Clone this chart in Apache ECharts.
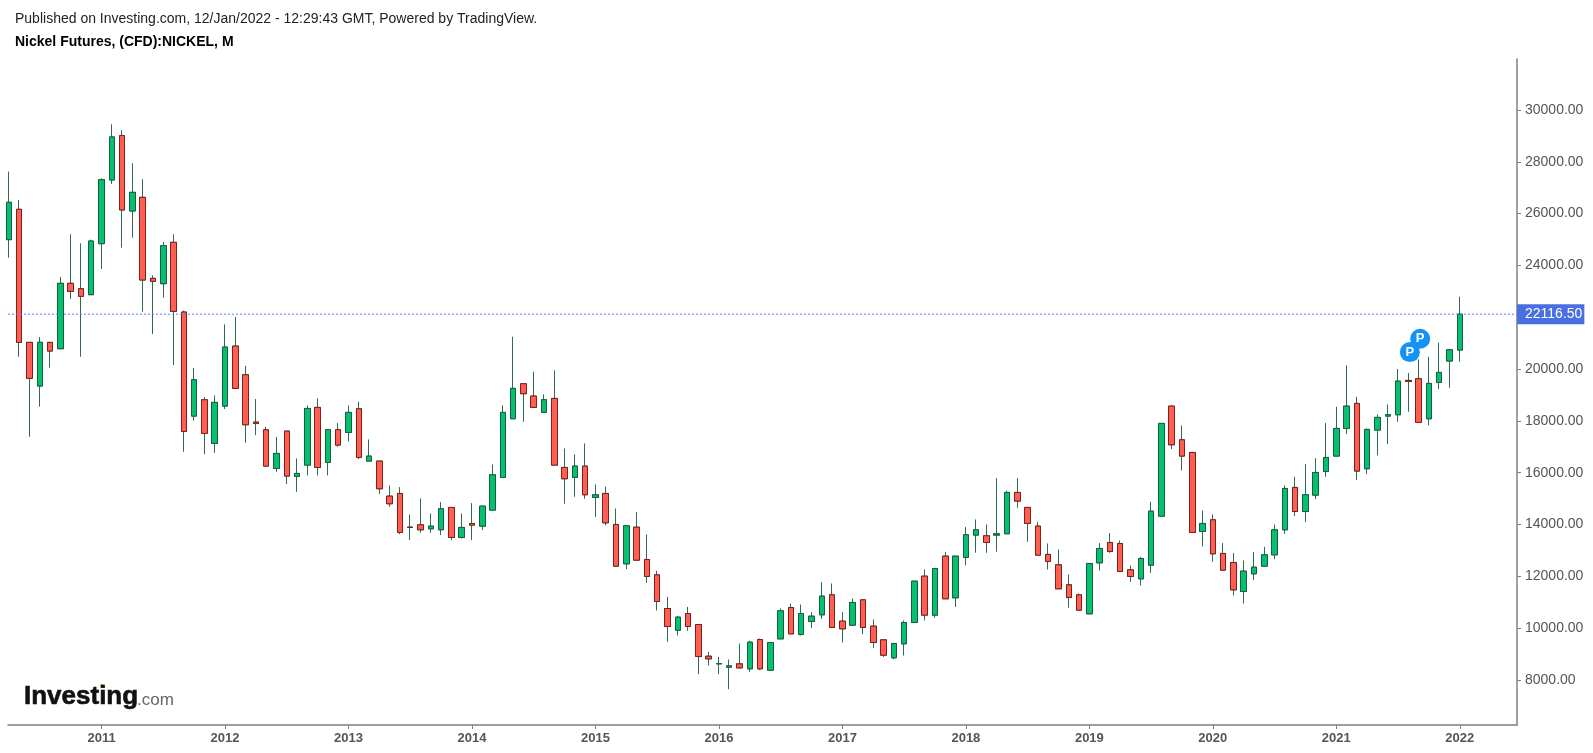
<!DOCTYPE html>
<html>
<head>
<meta charset="utf-8">
<title>Nickel Futures</title>
<script src="https://cdn.jsdelivr.net/npm/echarts@6/dist/echarts.min.js"></script>
<style>
html, body { margin: 0; padding: 0; background: #fff; }
#chart { width: 1593px; height: 753px; }
</style>
</head>
<body>
<div id="chart"></div>
<script>
// monthly candles, Apr 2010 - Jan 2022
var opens = [24994,26165,21030,19344,21030,20785,23308,23102,22870,24839,
  27297,29009,26100,26628,23501,23295,24891,22201,18185,18816,
  17130,18571,20888,19781,17954,17658,16165,17606,15856,16293,
  18520,16396,17658,17555,18468,16448,16448,15097,15199,13900,
  13990,13835,13797,14659,13501,14041,13938,14556,15817,18082,
  19434,18958,18327,18867,16203,15817,16255,15045,15199,14002,
  12484,13899,12651,12059,10759,9923,10566,10141,8919,8623,
  8494,8623,8430,9562,8378,9588,10798,9755,10257,10515,
  11288,10271,10116,11094,10078,9550,8855,9396,10219,12008,
  10503,12780,11172,12729,13591,13566,13591,13643,15239,14660,
  13939,12845,12446,11674,11288,10554,12522,13307,13269,12252,
  11904,12432,14324,18571,17271,16782,13732,14182,12883,12535,
  11416,12098,12394,12831,13796,15431,14504,15135,16049,16641,
  17709,18674,16152,17645,18185,18237,19562,19626,18082,19485,
  20309,20733];
var closes = [26435,21030,19640,21030,20695,23308,22999,22806,24942,27310,
  28958,26139,26821,23436,23385,24762,22227,17593,19588,17516,
  18713,20849,19254,17851,17902,16255,16744,15869,15972,18481,
  16203,17658,17066,18327,16589,16641,15380,14801,13694,13887,
  13797,13938,14607,13501,13887,13977,14710,15920,18327,19254,
  19048,18520,18816,16293,15766,16255,15148,15148,14067,12393,
  13951,12625,11995,11029,10064,10424,10064,8906,8816,8635,
  8546,8468,9459,8430,9446,10669,9781,10566,10463,11236,
  10026,9975,10992,10026,9447,8958,9409,10219,11815,10503,
  12304,11133,12780,13604,13797,13308,13643,15239,14904,14042,
  12819,12575,11519,11185,10696,12497,13076,12960,12188,11995,
  12690,14517,17902,17078,16641,13693,14041,12870,12239,11480,
  12201,12355,12831,13796,15392,14504,15148,16010,16589,17709,
  18571,16062,17670,18134,18237,19536,19524,17941,19446,19871,
  20746,22116.5];
var lows = [24299,20476,17387,18546,20051,20785,22703,20476,22870,23861,
  27143,24685,25071,22214,21351,22754,20154,16808,18005,16718,
  16770,18456,19254,17156,17452,16255,16036,15560,15264,15895,
  15895,15895,17001,17207,16525,16448,15174,14685,13629,13398,
  13681,13681,13591,13398,13462,13399,13784,14556,15817,18082,
  17967,18520,18327,16293,14801,15071,14993,14298,13964,12393,
  12278,12625,11750,10682,9472,9717,9897,8224,8558,8224,
  7644,8442,8314,8378,8378,9588,9781,9717,10013,10361,
  10026,9447,10116,9769,9241,8894,8804,8945,10219,10297,
  10400,11133,10824,12420,12909,12909,12948,13643,14647,13334,
  12819,12266,11519,10786,10696,10554,12226,12908,12188,11789,
  11647,12136,14324,16911,16087,13693,13153,12561,12239,11261,
  10948,11853,12394,12664,13642,14326,14094,14980,15843,16641,
  17490,15714,15946,16666,17104,17966,18352,17941,17825,19228,
  19279,20283];
var highs = [27619,26525,21030,21236,21030,23552,25199,24852,24994,27362,
  29447,29215,27941,27323,23616,24903,25199,22252,20039,18919,
  18983,21725,22008,20129,18842,17773,17375,17606,16551,18597,
  18867,17658,17915,18597,18739,17284,16448,15508,15444,14389,
  15006,14427,14865,14659,14427,14826,14710,16319,18597,21248,
  19434,19897,19022,19949,16937,16705,17130,15547,15457,14620,
  13951,14479,13616,12213,11210,10476,10823,10141,9086,8893,
  8790,9408,9511,9601,9446,10759,10952,10914,10617,11777,
  11725,10618,11146,11094,10335,9550,9409,10297,11815,12266,
  12304,12935,12780,13900,14196,14003,15792,15303,15792,14660,
  14106,13270,13038,12073,11339,12497,13282,13668,13385,12419,
  12754,14877,17902,18571,17825,16782,14543,14388,13282,12895,
  12612,12934,13140,14002,15508,15843,16332,16563,17915,18545,
  20141,18932,17709,18250,18635,20000,19845,20373,20476,21016,
  20746,22793];

var priceTicks = [8000,10000,12000,14000,16000,18000,20000,22000,24000,26000,28000,30000];
var yearTicks = [9,21,33,45,57,69,81,93,105,117,129,141]; // index of each January
var yearLabels = ['2011','2012','2013','2014','2015','2016','2017','2018','2019','2020','2021','2022'];
var lastPrice = 22116.5;
var pubMarks = [[136.15, 20656], [137.15, 21170]];
var xMin = -0.09, xMax = 146.56;

var green = '#04c06f', red = '#ff5f52', wick = '#2f6b52';
var fullRows = [], bodyRows = [];
opens.forEach(function(o, i) {
    fullRows.push([i, o, closes[i], lows[i], highs[i]]);
    bodyRows.push([i, o, closes[i], Math.min(o, closes[i]), Math.max(o, closes[i])]);
});

var chart = echarts.init(document.getElementById('chart'));
var sans = '"Liberation Sans", Arial, sans-serif';
var option = {
    animation: false,
    backgroundColor: '#fff',
    title: [
        { text: 'Published on Investing.com, 12/Jan/2022 - 12:29:43 GMT, Powered by TradingView.', left: 10, top: 7,
          textStyle: { fontFamily: sans, fontSize: 14, fontWeight: 'normal', color: '#222' } },
        { text: 'Nickel Futures, (CFD):NICKEL, M', left: 10, top: 30,
          textStyle: { fontFamily: sans, fontSize: 14, fontWeight: 'bold', color: '#000' } },
        { text: 'Investing', left: 19, top: 679,
          textStyle: { fontFamily: sans, fontSize: 26, fontWeight: 'bold', color: '#111', textBorderColor: '#111', textBorderWidth: 0.6 } },
        { text: '.com', left: 132, top: 687,
          textStyle: { fontFamily: sans, fontSize: 17, fontWeight: 'normal', color: '#666' } }
    ],
    grid: { left: 8, right: 76, top: 59, bottom: 28 },
    xAxis: {
        type: 'value',
        min: xMin,
        max: xMax,
        splitLine: { show: false },
        axisLine: { onZero: false, lineStyle: { color: '#808080', width: 1.5 } },
        axisTick: { length: 4, lineStyle: { color: '#808080' }, customValues: yearTicks },
        axisLabel: {
            customValues: yearTicks,
            margin: 7,
            fontFamily: sans, fontSize: 13, fontWeight: 'bold', color: '#555',
            formatter: function(v) { return yearLabels[yearTicks.indexOf(v)]; }
        }
    },
    yAxis: {
        type: 'value',
        position: 'right',
        min: 6263,
        max: 31966,
        splitLine: { show: false },
        axisLine: { show: true, onZero: false, lineStyle: { color: '#808080', width: 1.5 } },
        axisTick: { show: true, length: 4, lineStyle: { color: '#808080' }, customValues: priceTicks },
        axisLabel: {
            customValues: priceTicks,
            margin: 8,
            fontFamily: sans, fontSize: 14, color: '#555',
            formatter: function(v) { return v.toFixed(2); }
        }
    },
    series: [{
        name: 'wicks',
        type: 'candlestick',
        barWidth: 6,
        encode: { x: 0, y: [1, 2, 3, 4] },
        itemStyle: { color: green, color0: red, borderColor: wick, borderColor0: wick, borderColorDoji: wick, borderWidth: 1 },
        data: fullRows
    }, {
        name: 'bodies',
        type: 'candlestick',
        barWidth: 6,
        encode: { x: 0, y: [1, 2, 3, 4] },
        itemStyle: { color: green, color0: red, borderColor: '#1a5e41', borderColor0: '#7d1f1b', borderColorDoji: '#1a5e41', borderWidth: 1 },
        data: bodyRows,
        markPoint: {
            silent: true,
            symbol: 'circle',
            symbolSize: 20,
            itemStyle: { color: '#1592f5', borderWidth: 0 },
            label: { formatter: 'P', color: '#fff', fontFamily: sans, fontSize: 13, fontWeight: 'bold' },
            data: pubMarks.map(function(c) { return { coord: c }; })
        }
    }, {
        name: 'last price',
        type: 'line',
        silent: true,
        showSymbol: false,
        data: [[xMin, lastPrice], [xMax, lastPrice]],
        lineStyle: { type: [2, 2], color: '#5b7ff0', width: 1 },
        endLabel: {
            show: true,
            distance: 0,
            formatter: function() { return lastPrice.toFixed(2); },
            fontFamily: sans, fontSize: 14, color: '#fff',
            backgroundColor: '#4a6fe3',
            padding: [4, 2, 2, 8]
        }
    }],
    graphic: [{
        type: 'circle',
        shape: { cx: 102, cy: 685.5, r: 1.8 },
        style: { fill: '#f5a623' },
        silent: true
    }]
};
chart.setOption(option);
window.onresize = function() { chart.resize(); };
</script>
</body>
</html>
